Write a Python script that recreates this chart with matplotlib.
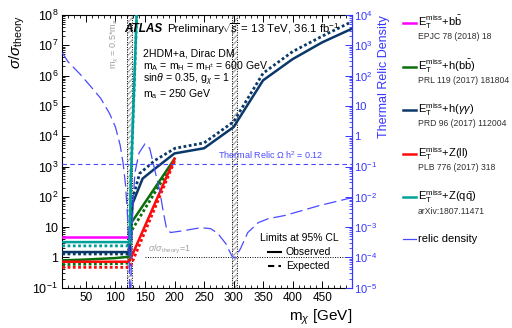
import numpy as np
import matplotlib
matplotlib.use('Agg')
import matplotlib.pyplot as plt
from matplotlib.lines import Line2D
from matplotlib.ticker import FixedLocator, FuncFormatter, LogLocator, MultipleLocator, NullFormatter

plt.rcParams['font.family'] = ['Liberation Sans', 'DejaVu Sans']
plt.rcParams['mathtext.fontset'] = 'custom'
plt.rcParams['mathtext.rm'] = 'Liberation Sans'
plt.rcParams['mathtext.it'] = 'Liberation Sans:italic'
plt.rcParams['mathtext.bf'] = 'Liberation Sans:bold'

# ---- limits, sigma/sigma_theory vs m_chi [GeV] ----
bb_x = [10, 122]
bb_obs = [4.6, 4.6]

hbb_x = [10, 50, 100, 123, 127, 200]
hbb_obs = [0.8, 0.85, 0.95, 1.05, 14, 1800]
hbb_exp = [0.58, 0.6, 0.62, 0.65, 7.5, 1600]

hgg_x_obs = [10, 123, 129, 146, 163, 200, 250, 300, 350, 400, 450, 500]
hgg_obs = [1.5, 1.5, 60, 400, 740, 2700, 4000, 2.0e4, 7.0e5, 3.5e6, 1.25e7, 3.5e7]
hgg_x_exp = [10, 123, 129, 141, 167, 201, 250, 300, 350, 400, 450, 500]
hgg_exp = [1.3, 1.3, 87, 590, 1600, 4000, 6000, 3.0e4, 1.2e6, 6.2e6, 2.0e7, 6.0e7]

zll_x_obs = [10, 123, 125, 200]
zll_obs = [0.72, 0.72, 0.85, 1800]
zll_x_exp = [10, 123, 127, 200]
zll_exp = [0.47, 0.47, 0.6, 1500]

zqq_x = [10, 124, 126, 136]
zqq_obs = [3.2, 3.2, 300, 1.2e8]
zqq_exp = [2.4, 2.4, 250, 1.0e8]

# ---- thermal relic density (right axis) ----
relic_x = [10, 20, 40, 60, 75, 90, 100, 108, 113, 117, 121, 123.5, 124.7,
           125.3, 126, 128, 130, 133, 140, 150, 158, 164, 170, 175, 181, 186,
           193, 215, 244, 261, 273, 287, 297, 301, 306, 312, 324, 342, 359,
           386, 415, 445, 479, 500]
relic_log = [2.75, 2.45, 2.05, 1.6, 1.25, 0.75, 0.3, -0.3, -0.9, -1.6, -2.8,
             -4.0, -7.0, -7.0, -5.0, -3.2, -2.1, -1.2, -0.55, -0.25, -0.4,
             -0.9, -1.4, -1.8, -2.5, -3.0, -3.18, -3.12, -3.02, -3.05, -3.2,
             -3.55, -3.95, -4.02, -3.9, -3.7, -3.18, -2.85, -2.72, -2.62,
             -2.46, -2.29, -2.13, -2.03]
relic_y = [10.0 ** v for v in relic_log]
relic_target = 0.12

MAG = '#ff00ff'
GRN = '#0b6e0b'
NAV = '#0a3868'
RED = '#ff0a0a'
TEAL = '#00a09a'
BLUE = '#4a4aff'
AXBLUE = '#3535ff'

W, H = 512, 328
fig = plt.figure(figsize=(W / 100, H / 100), dpi=100)
ax = fig.add_axes([62.3 / W, 1 - 287.7 / H, 289.4 / W, 272.7 / H])


def px(x, y):
    return x / W, 1 - y / H


ax.set_xlim(10, 500)
ax.set_yscale('log')
ax.set_ylim(1e-1, 1e8)

# m_chi = 0.5 m_a and 0.5 m_A bands
for lo, hi in [(120, 128), (297, 306)]:
    ax.axvspan(lo, hi, facecolor='none', edgecolor='#b0b0b0', hatch='//////', lw=0, zorder=1)
    ax.axvline(lo, color='black', lw=0.7, ls=(0, (1, 1.5)), zorder=1.5)
    ax.axvline(hi, color='black', lw=0.7, ls=(0, (1, 1.5)), zorder=1.5)
ax.text(109, 10 ** 7.88, r'm$_{\chi}$ = 0.5*m$_{\rm a}$', rotation=90, ha='right', va='top',
        color='#a0a0a0', fontsize=6.5)

# sigma/sigma_theory = 1
ax.plot([150, 500], [1, 1], color='black', lw=0.7, ls=(0, (1, 1.5)), zorder=1.5)
ax.text(155, 1.15, r'$\sigma/\sigma_{\rm theory}$=1', color='#a0a0a0', fontsize=6.5,
        ha='left', va='bottom')

dot = (0, (1, 0.9))
ax.plot(bb_x, bb_obs, color=MAG, lw=1.8, zorder=3)
ax.plot(hbb_x, hbb_exp, color=GRN, lw=2.0, ls=dot, zorder=3)
ax.plot(hbb_x, hbb_obs, color=GRN, lw=1.8, zorder=3)
ax.plot(zll_x_exp, zll_exp, color=RED, lw=2.0, ls=dot, zorder=3)
ax.plot(zll_x_obs, zll_obs, color=RED, lw=1.8, zorder=3)
ax.plot(hgg_x_exp, hgg_exp, color=NAV, lw=2.0, ls=dot, zorder=3)
ax.plot(hgg_x_obs, hgg_obs, color=NAV, lw=1.8, zorder=3)
ax.plot(zqq_x, zqq_exp, color=TEAL, lw=2.0, ls=dot, zorder=3)
ax.plot(zqq_x, zqq_obs, color=TEAL, lw=1.8, zorder=3)

# ticks left / bottom
ax.xaxis.set_major_locator(FixedLocator(list(range(50, 500, 50))))
ax.xaxis.set_minor_locator(MultipleLocator(10))
ax.yaxis.set_major_locator(LogLocator(base=10, numticks=20))
ax.yaxis.set_minor_locator(LogLocator(base=10, subs=np.arange(2, 10), numticks=20))
ax.yaxis.set_minor_formatter(NullFormatter())


def root_fmt(v, pos):
    e = int(round(np.log10(v)))
    if e == 0:
        return '1'
    if e == 1:
        return '10'
    return r'$10^{%d}$' % e


ax.yaxis.set_major_formatter(FuncFormatter(root_fmt))
ax.tick_params(axis='both', which='both', direction='in', top=True, right=False)
ax.tick_params(which='major', length=5, width=0.7)
ax.tick_params(which='minor', length=2.5, width=0.6)
ax.tick_params(axis='y', labelsize=9, pad=3)
ax.tick_params(axis='x', labelsize=8.5, pad=3)
for s in ax.spines.values():
    s.set_linewidth(0.8)
ax.spines['right'].set_visible(False)

ax.set_xlabel(r'm$_{\chi}$ [GeV]', loc='right', fontsize=11, labelpad=3)
ax.set_ylabel(r'$\sigma/\sigma_{\rm theory}$', loc='top', fontsize=11, labelpad=4)

# right axis, relic density
ax2 = ax.twinx()
ax2.set_yscale('log')
ax2.set_ylim(1e-5, 1e4)
ax2.set_xlim(10, 500)
ax2.plot(relic_x, relic_y, color=BLUE, lw=0.9, dashes=(10, 4), zorder=2)
ax2.axhline(relic_target, color=BLUE, lw=0.8, ls=(0, (4, 3)))
ax2.text(363, relic_target * 1.25, r'Thermal Relic $\Omega$ h$^2$ = 0.12', color=BLUE,
         fontsize=6.5, ha='center', va='bottom')
ax2.yaxis.set_major_locator(LogLocator(base=10, numticks=20))
ax2.yaxis.set_minor_locator(LogLocator(base=10, subs=np.arange(2, 10), numticks=20))
ax2.yaxis.set_minor_formatter(NullFormatter())
ax2.yaxis.set_major_formatter(FuncFormatter(root_fmt))
ax2.tick_params(axis='y', which='both', direction='in', colors=AXBLUE, labelsize=8, pad=2)
ax2.tick_params(axis='y', which='major', length=5, width=0.7)
ax2.tick_params(axis='y', which='minor', length=2.5, width=0.6)
for k in ['left', 'top', 'bottom']:
    ax2.spines[k].set_visible(False)
ax2.spines['right'].set_color(AXBLUE)
ax2.spines['right'].set_linewidth(0.9)
ax2.set_ylabel('Thermal Relic Density', color=AXBLUE, loc='top', fontsize=9, labelpad=0)

# header texts
fig.text(*px(124, 29), 'ATLAS', fontsize=8.5, fontweight='bold', fontstyle='italic', va='center')
fig.text(*px(167, 29), 'Preliminary', fontsize=8.2, va='center')
fig.text(*px(222, 29), r'$\sqrt{s}$ = 13 TeV, 36.1 fb$^{-1}$', fontsize=8.2, va='center')
fig.text(*px(143, 53), '2HDM+a, Dirac DM', fontsize=7.6, va='center')
fig.text(*px(143, 66.5), r'm$_{\rm A}$ = m$_{\rm H}$ = m$_{\rm H^{\pm}}$ = 600 GeV', fontsize=7.6, va='center')
fig.text(*px(143, 80), r'sin$\theta$ = 0.35, g$_{\chi}$ = 1', fontsize=7.6, va='center')
fig.text(*px(143, 94.5), r'm$_{\rm a}$ = 250 GeV', fontsize=7.6, va='center')

# obs / exp key
fig.text(*px(260, 238), 'Limits at 95% CL', fontsize=7.5, va='center')
fig.add_artist(Line2D([268 / W, 281 / W], [1 - 252 / H] * 2, color='black', lw=1.5))
fig.text(*px(286, 252), 'Observed', fontsize=7.5, va='center')
fig.add_artist(Line2D([268 / W, 281 / W], [1 - 266 / H] * 2, color='black', lw=1.5, ls=(0, (3, 2))))
fig.text(*px(286, 266), 'Expected', fontsize=7.5, va='center')

# right legend
entries = [
    (MAG, r'E$_{\rm T}^{\rm miss}$+b$\bar{\rm b}$', 'EPJC 78 (2018) 18', 22.7),
    (GRN, r'E$_{\rm T}^{\rm miss}$+h(b$\bar{\rm b}$)', 'PRL 119 (2017) 181804', 66.7),
    (NAV, r'E$_{\rm T}^{\rm miss}$+h($\gamma\gamma$)', 'PRD 96 (2017) 112004', 110),
    (RED, r'E$_{\rm T}^{\rm miss}$+Z(ll)', 'PLB 776 (2017) 318', 153.5),
    (TEAL, r'E$_{\rm T}^{\rm miss}$+Z(q$\bar{\rm q}$)', 'arXiv:1807.11471', 197),
]
for col, lab, ref, yy in entries:
    fig.add_artist(Line2D([403 / W, 416 / W], [1 - yy / H] * 2, color=col, lw=1.8))
    fig.text(*px(418, yy), lab, fontsize=8, va='center')
    fig.text(*px(418, yy + 14), ref, fontsize=6.2, va='center', color='#303030')
fig.add_artist(Line2D([403 / W, 416 / W], [1 - 239 / H] * 2, color=BLUE, lw=0.9))
fig.text(*px(418, 239), 'relic density', fontsize=8, va='center')

fig.savefig('out.png', dpi=100)
